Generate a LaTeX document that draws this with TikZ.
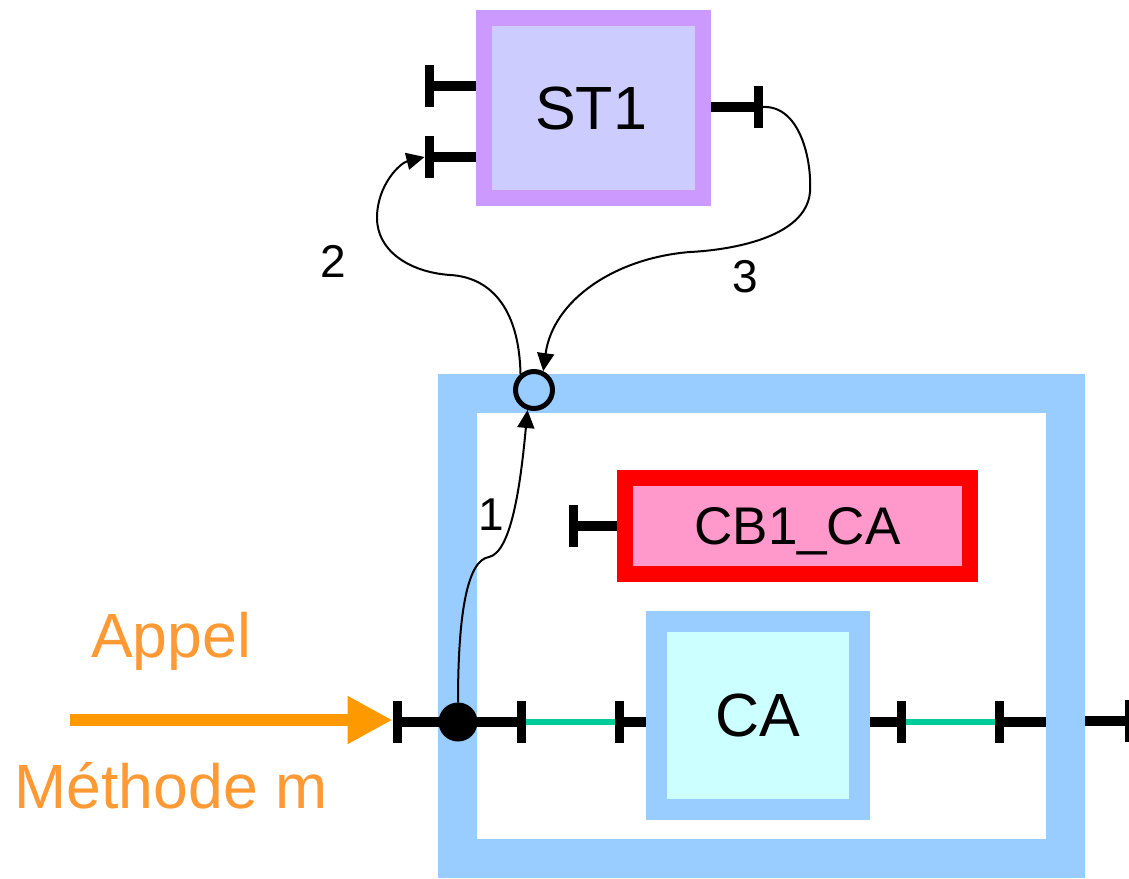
\documentclass[tikz,border=0pt]{standalone}
\usepackage{fontspec}
\setmainfont{Liberation Sans}
\usetikzlibrary{arrows.meta,calc}
\definecolor{bandblue}{HTML}{99CCFF}
\definecolor{stborder}{HTML}{CC99FF}
\definecolor{stfill}{HTML}{CCCCFF}
\definecolor{cafill}{HTML}{CCFFFF}
\definecolor{cbborder}{HTML}{FF0000}
\definecolor{cbfill}{HTML}{FF99CC}
\definecolor{callorange}{HTML}{FF9900}
\definecolor{textorange}{HTML}{FF9933}
\definecolor{wiregreen}{HTML}{00CC99}
\begin{document}
\begin{tikzpicture}[x=1pt,y=-1pt,
  box/.style={rectangle, inner sep=0, outer sep=0, text depth=0pt},
  bar/.style={rectangle, fill=black, draw=none, minimum width=9, minimum height=42, inner sep=0, outer sep=0},
  portline/.style={draw=black, line width=10},
  wire/.style={draw=wiregreen, line width=5.5},
  conn/.style={draw=black, line width=2, -{Triangle[length=18pt,width=17pt]}},
  lbl/.style={anchor=base, inner sep=0, font=\fontsize{46}{55}\selectfont},
  big/.style={font=\fontsize{61}{73}\selectfont},
  otext/.style={anchor=base, inner sep=0, text=textorange, font=\fontsize{62.5}{75}\selectfont}]
\useasboundingbox (0,0) rectangle (1129,878);

% composite component
\node[box, draw=bandblue, line width=39, fill=white, minimum width=608, minimum height=465] (comp) at (761.5,626) {};

% ST1
\node[box, big, draw=stborder, fill=stfill, line width=16, minimum width=219, minimum height=180] (st1) at (593.5,108) {\hspace*{-5pt}ST1};
% CB1_CA
\node[box, draw=cbborder, fill=cbfill, line width=16, minimum width=345, minimum height=96, font=\fontsize{53}{64}\selectfont] (cb1) at (797.5,526) {CB1\_CA};
% CA
\node[box, big, draw=bandblue, fill=cafill, line width=21, minimum width=203, minimum height=188] (ca) at (758,715.5) {CA};

% port bars
\node[bar] (s1) at (429,86) {};
\node[bar] (s2) at (429,157) {};
\node[bar] (s3) at (758,107) {};
\node[bar] (c1) at (573,526) {};
\node[bar] (lp) at (397,722) {};
\node[bar] (b2) at (521,722) {};
\node[bar] (b3) at (619,722) {};
\node[bar] (b4) at (901,722) {};
\node[bar] (b5) at (999,722) {};
\node[bar] (b6) at (1129,721) {};

% port lines
\draw[portline, shorten >=8] (s1.center) -- (st1.west |- s1);
\draw[portline, shorten >=8] (s2.center) -- (st1.west |- s2);
\draw[portline, shorten <=8] (st1.east |- s3) -- (s3.center);
\draw[portline, shorten >=8] (c1.center) -- (cb1.west |- c1);
\draw[portline] (lp.center) -- (b2.center);
\draw[portline, shorten >=10.5] (b3.center) -- (ca.west |- b3);
\draw[portline, shorten <=10.5] (ca.east |- b4) -- (b4.center);
\draw[portline, shorten >=19.5] (b5.center) -- (comp.east |- b5);
\draw[portline, shorten <=19.5] (comp.east |- b6) -- (b6.center);

% green wires
\draw[wire] (b2.east) -- (b3.west);
\draw[wire] (b4.east) -- (b5.west);

% call point and server port
\node[circle, fill=black, minimum size=39, inner sep=0, outer sep=0] (call) at (458,722) {};
\node[circle, draw=black, line width=5, fill=bandblue, minimum size=37, inner sep=0] (srv) at (534,390) {};

% incoming call
\coordinate (astart) at (70,720);
\draw[draw=callorange, line width=12, -{Triangle[length=45pt,width=45pt]}] (astart) -- (lp.west |- astart);
\node[otext] (appel) at (171,657) {Appel};
\node[otext] (meth) at (171,808) {Méthode m};

% connectors
\draw[conn] (call.north) .. controls (458,610) and (468,560) .. (489,557)
            .. controls (512,552) and (521,480) .. (srv.252);
\draw[conn] (srv.130) .. controls (519,305) and (488,277) .. (450,275)
            .. controls (408,272) and (377,250) .. (377,218)
            .. controls (377,185) and (400,163) .. (s2.west);
\draw[conn] (s3.east) .. controls (800,105) and (812,160) .. (810,192)
            .. controls (806,238) and (730,250) .. (690,252)
            .. controls (615,258) and (553,300) .. (srv.64);

% labels
\node[lbl] (l1) at (491,530) {1};
\node[lbl] (l2) at (333,277) {2};
\node[lbl] (l3) at (745,292) {3};
\end{tikzpicture}
\end{document}
